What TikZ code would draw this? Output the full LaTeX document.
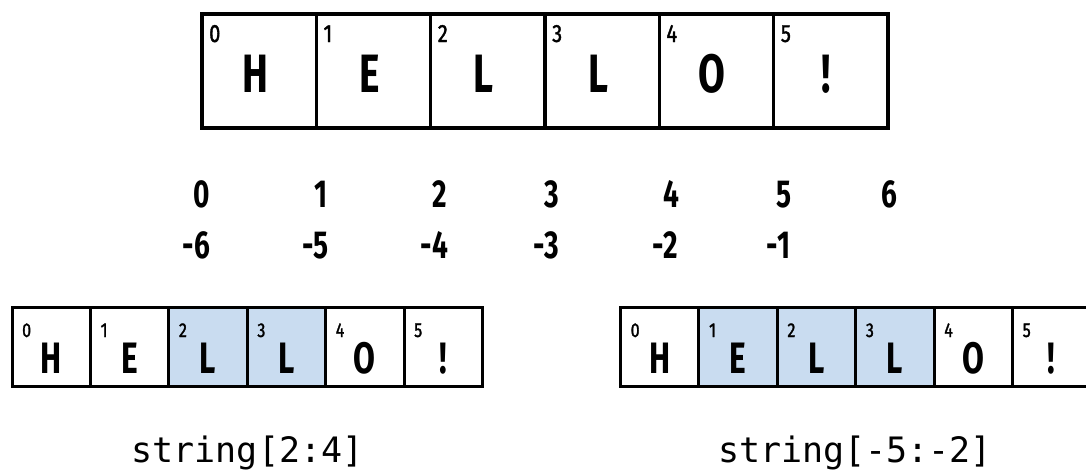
\documentclass[tikz,border=0pt]{standalone}
\usepackage{fontspec}
\newfontfamily\cond{Fira Sans}[FakeStretch=0.72]
\newfontfamily\idxf{Fira Sans}[FakeStretch=0.8, FakeBold=1.5]
\newfontfamily\monof{DejaVu Sans Mono}
\definecolor{hl}{RGB}{201,220,240}
\tikzset{
  bigcell/.style={draw=black, line width=3.4pt, minimum width=114.33pt, minimum height=114pt, inner sep=0pt, outer sep=0pt, anchor=north west},
  smallcell/.style={draw=black, line width=3pt, minimum width=78.4pt, minimum height=79pt, inner sep=0pt, outer sep=0pt, anchor=north west},
  bigletter/.style={anchor=base, inner sep=0pt, font=\cond\bfseries\fontsize{54}{54}\selectfont},
  smallletter/.style={anchor=base, inner sep=0pt, font=\cond\bfseries\fontsize{44}{44}\selectfont},
  bigidx/.style={anchor=base west, inner sep=0pt, font=\idxf\fontsize{25}{25}\selectfont},
  smallidx/.style={anchor=base west, inner sep=0pt, font=\idxf\fontsize{20}{20}\selectfont},
  numlabel/.style={anchor=base, inner sep=0pt, font=\cond\bfseries\fontsize{39}{39}\selectfont},
  codelabel/.style={anchor=base, inner sep=0pt, font=\monof\fontsize{35}{35}\selectfont},
}
\begin{document}
\begin{tikzpicture}[x=1pt,y=-1pt]
\useasboundingbox (0,0) rectangle (1086,471);
\clip (0,0) rectangle (1086,471);
% top array
\foreach \l [count=\i from 0] in {H,E,L,L,O,!}{
  \node[bigcell] (t\i) at ({202+114.33*\i},14) {};
  \node[bigletter] (tl\i) at ({202+114.33*\i+53},92) {\l};
  \node[bigidx] (ti\i) at ({202+114.33*\i+7},42) {\i};
}
% index rows
\foreach \x [count=\i from 0] in {202,321,440,552,671,784,889}{
  \node[numlabel] (p\i) at (\x,207) {\i};
}
\foreach \x/\n [count=\i from 0] in {202/6,321/5,440/4,552/3,671/2,784/1}{
  \node[numlabel] (n\i) at (\x,258) {\llap{-}\n};
}
% bottom left array: string[2:4]
\foreach \l/\f [count=\i from 0] in {H/white,E/white,L/hl,L/hl,O/white,!/white}{
  \node[smallcell, fill=\f] (a\i) at ({12+78.4*\i},307) {};
  \node[smallletter] (al\i) at ({12+78.4*\i+39.2},373) {\l};
  \node[smallidx] (ai\i) at ({12+78.4*\i+10},337) {\i};
}
\node[codelabel] (lab1) at (247.5,462) {string[2:4]};
% bottom right array: string[-5:-2]
\foreach \l/\f [count=\i from 0] in {H/white,E/hl,L/hl,L/hl,O/white,!/white}{
  \node[smallcell, fill=\f] (b\i) at ({620.5+78.4*\i},307) {};
  \node[smallletter] (bl\i) at ({620.5+78.4*\i+39.2},373) {\l};
  \node[smallidx] (bi\i) at ({620.5+78.4*\i+10},337) {\i};
}
\node[codelabel] (lab2) at (855,462) {string[-5:-2]};
\end{tikzpicture}
\end{document}
